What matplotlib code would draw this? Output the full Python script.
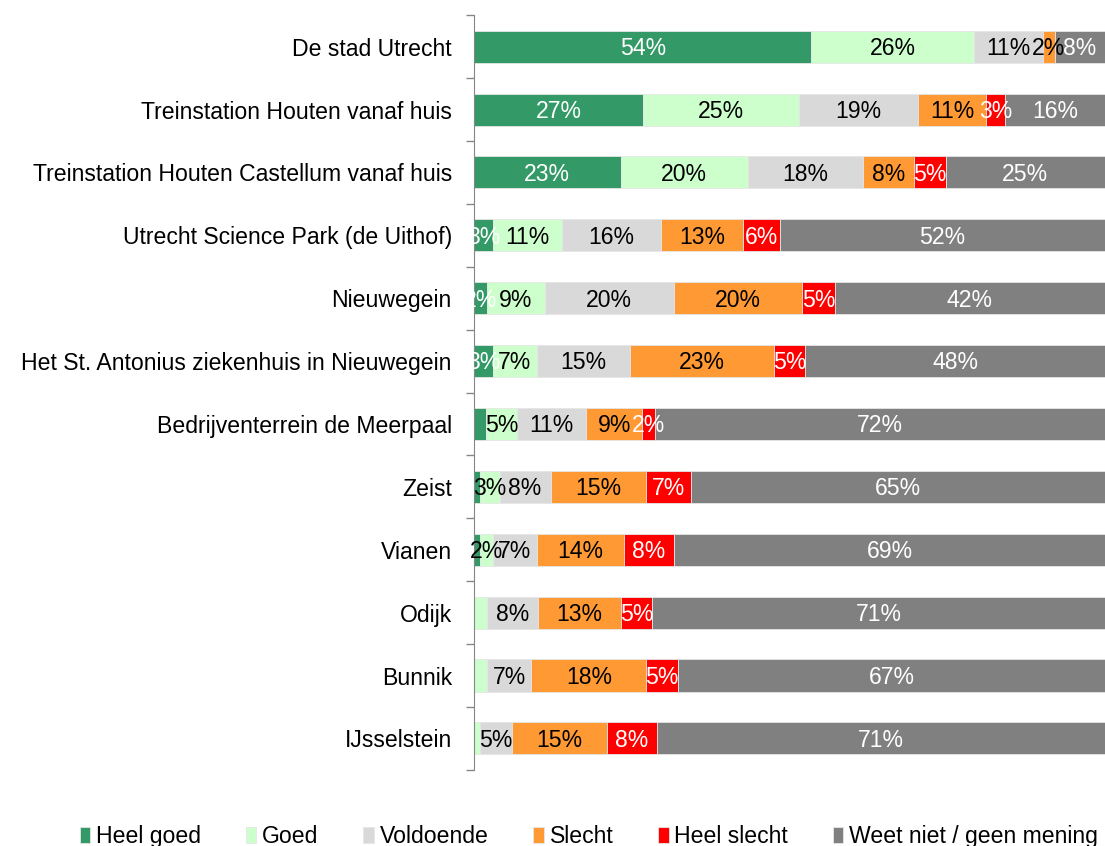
import numpy as np
import matplotlib.pyplot as plt

plt.rcParams['font.family'] = ['Liberation Sans', 'DejaVu Sans']

locaties = ['De stad Utrecht', 'Treinstation Houten vanaf huis',
            'Treinstation Houten Castellum vanaf huis', 'Utrecht Science Park (de Uithof)',
            'Nieuwegein', 'Het St. Antonius ziekenhuis in Nieuwegein',
            'Bedrijventerrein de Meerpaal', 'Zeist', 'Vianen', 'Odijk', 'Bunnik', 'IJsselstein']
series = ['Heel goed', 'Goed', 'Voldoende', 'Slecht', 'Heel slecht', 'Weet niet / geen mening']

heel_goed   = [54, 27, 23, 3, 2, 3, 1.9, 1, 1, 0, 0, 0]
goed        = [26, 25, 20, 11, 9, 7, 5, 3, 2, 2, 2, 1]
voldoende   = [11, 19, 18, 16, 20, 15, 11, 8, 7, 8, 7, 5]
slecht      = [2, 11, 8, 13, 20, 23, 9, 15, 14, 13, 18, 15]
heel_slecht = [0, 3, 5, 6, 5, 5, 2, 7, 8, 5, 5, 8]
weet_niet   = [8, 16, 25, 52, 42, 48, 72, 65, 69, 71, 67, 71]

# labels that are not shown in the original (row index, series index)
no_label = [(6, 0), (7, 0), (8, 0), (9, 1), (10, 1), (11, 1)]

colors = ['#339966', '#CCFFCC', '#D9D9D9', '#FF9933', '#FF0000', '#808080']
text_colors = ['white', 'black', 'black', 'black', 'white', 'white']

data = np.array([heel_goed, goed, voldoende, slecht, heel_slecht, weet_niet], dtype=float)
# 100% stacked: every bar fills the full width
shares = data / data.sum(axis=0) * 100

fig = plt.figure(figsize=(11.05, 8.46), dpi=100)
ax = fig.add_axes([0.429, 0.090, 0.571, 0.892])

fs = 16.6
y = np.arange(len(locaties))
left = np.zeros(len(locaties))
for i, name in enumerate(series):
    ax.barh(y, shares[i], left=left, height=0.51, color=colors[i], label=name,
            edgecolor='#E6E6E6', linewidth=0.6)
    for r in range(len(locaties)):
        v = data[i, r]
        if v > 0 and (r, i) not in no_label:
            ax.text(left[r] + shares[i, r] / 2, r + 0.03, f'{round(v):.0f}%', ha='center',
                    va='center', fontsize=fs, color=text_colors[i])
    left += shares[i]

ax.set_xlim(0, 100)
ax.set_ylim(len(locaties) - 0.5, -0.5)
ax.set_xticks([])
ax.set_yticks(y)
ax.set_yticklabels(locaties, fontsize=fs)
ax.tick_params(axis='y', which='major', length=0, pad=16)
ax.set_yticks(np.arange(-0.5, len(locaties), 1), minor=True)
ax.tick_params(axis='y', which='minor', length=6, color='#868686', width=1)
for s in ['top', 'right', 'bottom']:
    ax.spines[s].set_visible(False)
ax.spines['left'].set_color('#868686')

fig.legend(loc='center', bbox_to_anchor=(0.533, 0.011), ncol=6, frameon=False,
           fontsize=fs, handlelength=0.45, handleheight=0.7, handletextpad=0.25,
           columnspacing=1.95)

fig.savefig('out.png', dpi=100)
